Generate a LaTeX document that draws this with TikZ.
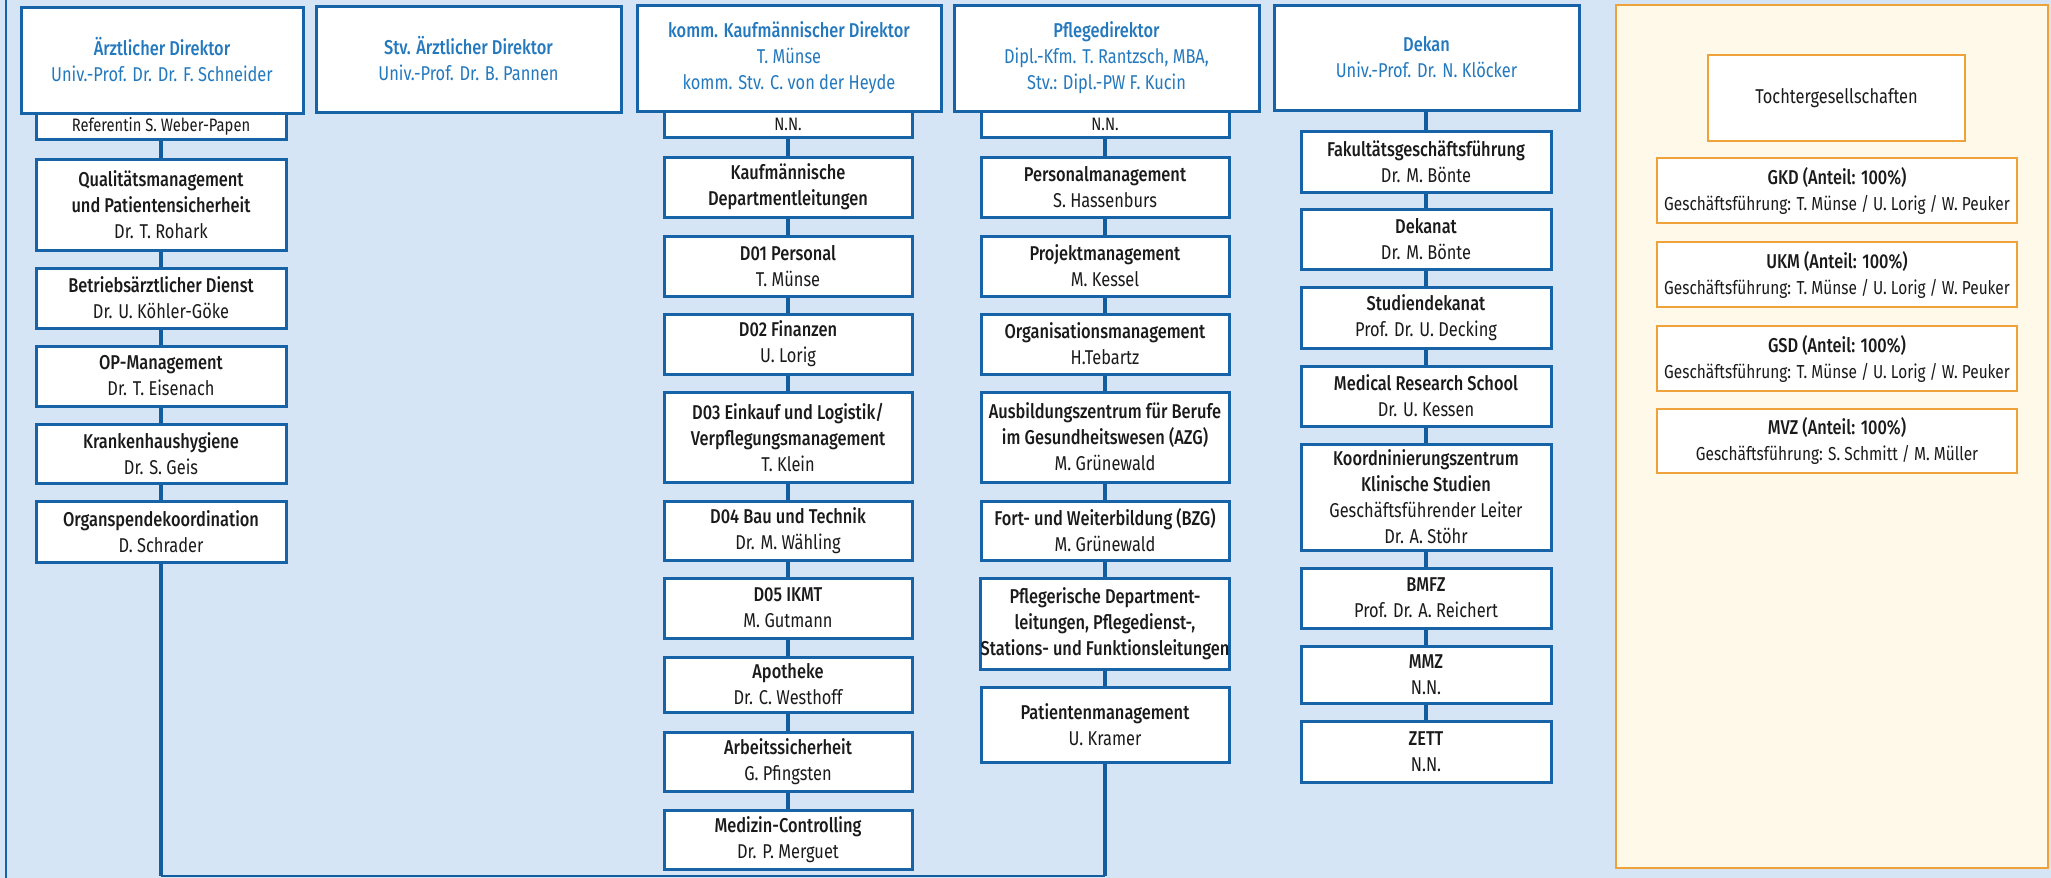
\documentclass[tikz,border=0pt]{standalone}
\usepackage{fontspec}
\setmainfont{Fira Sans}[FakeStretch=0.82]
\newfontfamily\medfont{Fira Sans Medium}[FakeStretch=0.82]
\definecolor{bgblue}{HTML}{D5E5F5}
\definecolor{boxblue}{HTML}{1763A8}
\definecolor{lineblue}{HTML}{135C9E}
\definecolor{titleblue}{HTML}{2479BE}
\definecolor{cream}{HTML}{FFF9E9}
\definecolor{orangeb}{HTML}{F0A23A}
\definecolor{txt}{HTML}{1A1A1A}
\newcommand\orgbox[7]{\node[#1, minimum width={(#5-#3)*0.5pt}, minimum height={(#6-#4)*0.5pt}] (#2) at ({(#3+#5)/2},{(#4+#6)/2}) {#7};}
\newcommand\gfsize{\fontsize{9.4}{13}\selectfont}
\tikzset{
  box/.style={draw=boxblue, line width=1.5pt, fill=white, inner sep=0pt, align=center, text=txt, font=\fontsize{10}{13}\selectfont},
  smallbox/.style={box, font=\fontsize{9}{13}\selectfont},
  topbox/.style={box, text=titleblue},
  tbox/.style={draw=orangeb, line width=1pt, fill=white, inner sep=0pt, align=center, text=txt, font=\fontsize{10}{13}\selectfont},
  conn/.style={draw=lineblue, line width=2pt},
}
\begin{document}
\begin{tikzpicture}[x=0.5pt,y=-0.5pt]
\useasboundingbox (0,0) rectangle (2051,878);
\fill[bgblue] (0,0) rectangle (2051,878);
\draw[boxblue, line width=1pt] (6,0) -- (6,878);
\filldraw[fill=cream, draw=orangeb, line width=1pt] (1616,5) rectangle (2048,868);

% Column 1
\orgbox{topbox}{aed}{21}{7}{303}{113}{{\medfont Ärztlicher Direktor}\\Univ.-Prof. Dr. Dr. F. Schneider}
\orgbox{smallbox}{ref}{36}{113}{286}{139}{Referentin S. Weber-Papen}
\orgbox{box}{quali}{36}{159}{286}{250}{{\medfont Qualitätsmanagement}\\{\medfont und Patientensicherheit}\\Dr. T. Rohark}
\orgbox{box}{betr}{36}{268}{286}{328}{{\medfont Betriebsärztlicher Dienst}\\Dr. U. Köhler-Göke}
\orgbox{box}{opm}{36}{346}{286}{406}{{\medfont OP-Management}\\Dr. T. Eisenach}
\orgbox{box}{khh}{36}{424}{286}{483}{{\medfont Krankenhaushygiene}\\Dr. S. Geis}
\orgbox{box}{organ}{36}{501}{286}{562}{{\medfont Organspendekoordination}\\D. Schrader}
\coordinate (c1bot) at (161,876);

% Column 2
\orgbox{topbox}{stv}{316}{6}{621}{112}{{\medfont Stv. Ärztlicher Direktor}\\Univ.-Prof. Dr. B. Pannen}

% Column 3
\orgbox{topbox}{kd}{637}{5}{941}{111}{{\medfont komm. Kaufmännischer Direktor}\\T. Münse\\komm. Stv. C. von der Heyde}
\orgbox{smallbox}{nna}{664}{111}{912}{137}{N.N.}
\orgbox{box}{kdl}{664}{157}{912}{217}{{\medfont Kaufmännische}\\{\medfont Departmentleitungen}}
\orgbox{box}{dpers}{664}{236}{912}{296}{{\medfont D01 Personal}\\T. Münse}
\orgbox{box}{dfin}{664}{314}{912}{374}{{\medfont D02 Finanzen}\\U. Lorig}
\orgbox{box}{deink}{664}{392}{912}{482}{{\medfont D03 Einkauf und Logistik/}\\{\medfont Verpflegungsmanagement}\\T. Klein}
\orgbox{box}{dbau}{664}{501}{912}{560}{{\medfont D04 Bau und Technik}\\Dr. M. Wähling}
\orgbox{box}{dikmt}{664}{578}{912}{638}{{\medfont D05 IKMT}\\M. Gutmann}
\orgbox{box}{apo}{664}{657}{912}{712}{{\medfont Apotheke}\\Dr. C. Westhoff}
\orgbox{box}{arb}{664}{732}{912}{791}{{\medfont Arbeitssicherheit}\\G. Pfingsten}
\orgbox{box}{medc}{664}{810}{912}{869}{{\medfont Medizin-Controlling}\\Dr. P. Merguet}

% Column 4
\orgbox{topbox}{pd}{954}{5}{1259}{111}{{\medfont Pflegedirektor}\\Dipl.-Kfm. T. Rantzsch, MBA,\\Stv.: Dipl.-PW F. Kucin}
\orgbox{smallbox}{nnb}{981}{111}{1229}{137}{N.N.}
\orgbox{box}{pm}{981}{157}{1229}{217}{{\medfont Personalmanagement}\\S. Hassenburs}
\orgbox{box}{proj}{981}{236}{1229}{296}{{\medfont Projektmanagement}\\M. Kessel}
\orgbox{box}{orgm}{981}{314}{1229}{374}{{\medfont Organisationsmanagement}\\H.Tebartz}
\orgbox{box}{azg}{981}{392}{1229}{482}{{\medfont Ausbildungszentrum für Berufe}\\{\medfont im Gesundheitswesen (AZG)}\\M. Grünewald}
\orgbox{box}{bzg}{981}{501}{1229}{560}{{\medfont Fort- und Weiterbildung (BZG)}\\M. Grünewald}
\orgbox{box}{pfl}{981}{578}{1229}{669}{{\medfont Pflegerische Department-}\\{\medfont leitungen, Pflegedienst-,}\\{\medfont Stations- und Funktionsleitungen}}
\orgbox{box}{pat}{981}{687}{1229}{762}{{\medfont Patientenmanagement}\\U. Kramer}
\coordinate (c4bot) at (1105,876);

% Column 5
\orgbox{topbox}{dek}{1274}{5}{1579}{110}{{\medfont Dekan}\\Univ.-Prof. Dr. N. Klöcker}
\orgbox{box}{fak}{1301}{131}{1551}{192}{{\medfont Fakultätsgeschäftsführung}\\Dr. M. Bönte}
\orgbox{box}{dkn}{1301}{209}{1551}{269}{{\medfont Dekanat}\\Dr. M. Bönte}
\orgbox{box}{std}{1301}{287}{1551}{348}{{\medfont Studiendekanat}\\Prof. Dr. U. Decking}
\orgbox{box}{mrs}{1301}{366}{1551}{426}{{\medfont Medical Research School}\\Dr. U. Kessen}
\orgbox{box}{kzks}{1301}{444}{1551}{550}{{\medfont Koordninierungszentrum}\\{\medfont Klinische Studien}\\Geschäftsführender Leiter\\Dr. A. Stöhr}
\orgbox{box}{bmfz}{1301}{568}{1551}{628}{{\medfont BMFZ}\\Prof. Dr. A. Reichert}
\orgbox{box}{mmz}{1301}{646}{1551}{703}{{\medfont MMZ}\\N.N.}
\orgbox{box}{zett}{1301}{721}{1551}{782}{{\medfont ZETT}\\N.N.}

% Tochtergesellschaften
\orgbox{tbox}{toch}{1708}{55}{1965}{141}{Tochtergesellschaften}
\orgbox{tbox}{gkd}{1657}{158}{2017}{223}{{\medfont GKD (Anteil: 100\%)}\\{\gfsize Geschäftsführung: T. Münse / U. Lorig / W. Peuker}}
\orgbox{tbox}{ukm}{1657}{242}{2017}{307}{{\medfont UKM (Anteil: 100\%)}\\{\gfsize Geschäftsführung: T. Münse / U. Lorig / W. Peuker}}
\orgbox{tbox}{gsd}{1657}{326}{2017}{391}{{\medfont GSD (Anteil: 100\%)}\\{\gfsize Geschäftsführung: T. Münse / U. Lorig / W. Peuker}}
\orgbox{tbox}{mvz}{1657}{409}{2017}{473}{{\medfont MVZ (Anteil: 100\%)}\\{\gfsize Geschäftsführung: S. Schmitt / M. Müller}}

% Connectors
\foreach \a/\b in {ref/quali, quali/betr, betr/opm, opm/khh, khh/organ,
  nna/kdl, kdl/dpers, dpers/dfin, dfin/deink, deink/dbau, dbau/dikmt, dikmt/apo, apo/arb, arb/medc,
  nnb/pm, pm/proj, proj/orgm, orgm/azg, azg/bzg, bzg/pfl, pfl/pat,
  fak/dkn, dkn/std, std/mrs, mrs/kzks, kzks/bmfz, bmfz/mmz, mmz/zett}
  \draw[conn] (\a.south) -- (\b.north);
\draw[conn] (dek.south -| fak.north) -- (fak.north);
\draw[conn] (organ.south) -- (c1bot);
\draw[conn] (pat.south) -- (c4bot);
\draw[lineblue, line width=1.2pt] (c1bot) -- (c4bot);
\end{tikzpicture}
\end{document}
